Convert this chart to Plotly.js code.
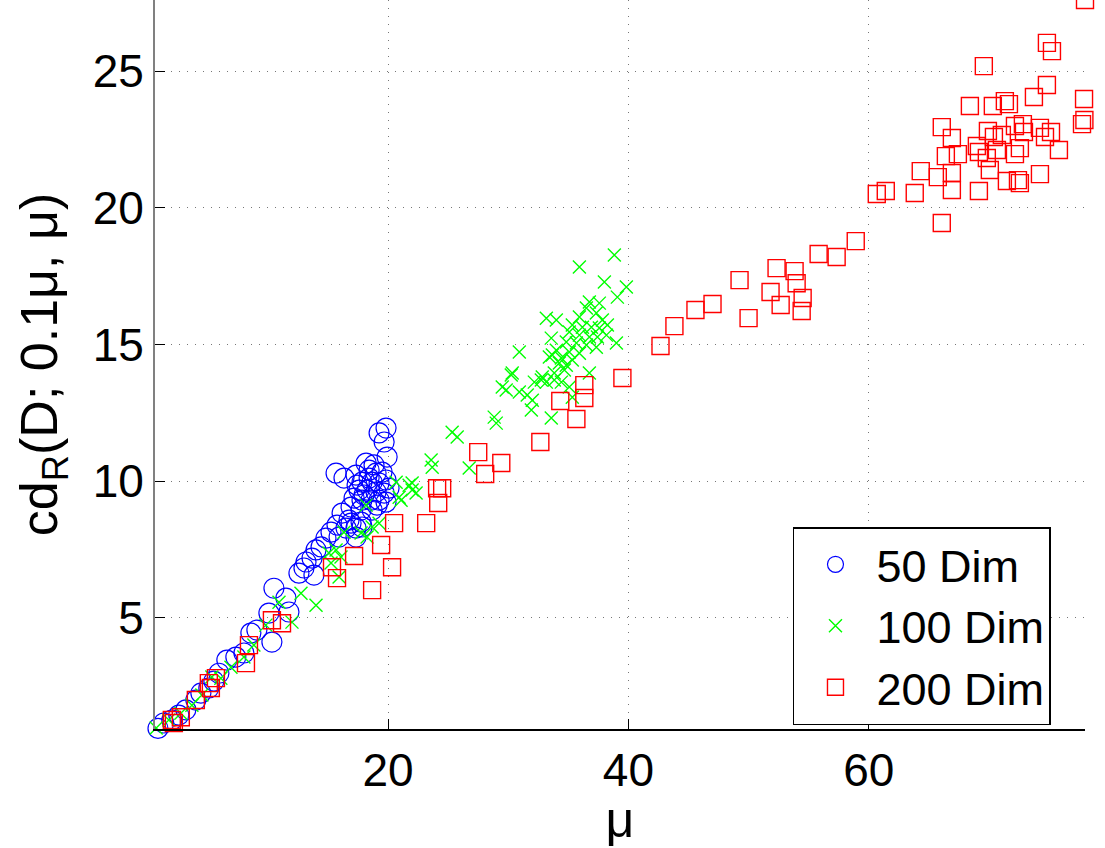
<!DOCTYPE html>
<html>
<head>
<meta charset="utf-8">
<script src="https://cdn.plot.ly/plotly-3.0.1.min.js"></script>
<style>html,body{margin:0;padding:0;background:#fff;}#chart{width:1105px;height:848px;}</style>
</head>
<body>
<div id="chart"></div>
<script>
// 50 Dim (blue circles)
const dim50X = [0.85,1.33,2.0,2.58,3.17,4.0,4.42,5.08,5.5,5.92,6.58,7.33,8.0,8.58,9.08,10.33,10.08,10.5,11.5,11.75,
  13.0,13.17,13.67,14.0,13.83,12.58,14.42,14.83,15.25,15.92,15.75,16.5,17.33,16.17,16.75,17.75,16.92,17.75,18.67,17.17,
  17.83,18.58,19.25,19.83,17.58,18.25,19.0,19.67,17.83,18.67,19.25,19.83,15.67,16.33,17.33,18.42,19.0,19.5,18.17,19.92,
  19.67,19.25,19.83,17.33,17.83,16.92,18.83,18.0,19.08,20.08,18.42,17.42];
const dim50Y = [0.95,1.15,1.26,1.44,1.63,1.99,2.24,2.43,2.68,2.97,3.45,3.56,3.71,4.44,4.55,4.11,5.17,6.08,5.72,5.21,
  6.82,7.04,7.18,7.48,6.56,6.63,7.59,7.91,8.13,7.95,8.39,8.28,8.28,8.83,8.57,8.5,9.05,8.94,8.94,9.38,
  9.3,9.3,9.3,9.23,9.67,9.67,9.6,9.56,9.96,9.96,9.93,10.04,10.29,10.11,10.22,10.4,10.29,10.33,10.66,10.88,
  11.43,11.76,11.94,7.95,8.32,8.46,10.59,9.49,9.12,9.74,10.11,9.85];

// 100 Dim (green crosses)
const dim100X = [0.7,1.75,2.75,3.67,4.5,5.33,6.08,6.92,8.0,8.83,9.83,10.92,12.0,12.75,14.0,15.08,15.67,16.08,15.25,15.92,
  16.33,17.75,18.25,18.67,19.25,18.17,20.67,21.08,21.75,22.0,20.92,22.33,22.0,23.58,23.67,25.33,25.75,26.75,28.83,29.0,
  29.83,30.33,30.92,31.58,32.0,31.92,30.92,32.17,32.75,33.17,33.58,33.67,34.25,34.67,35.08,35.33,36.75,33.83,34.42,29.5,
  30.25,32.83,33.83,34.83,33.42,34.42,35.33,34.0,35.08,35.92,33.58,34.83,35.67,36.5,37.33,39.0,35.08,35.92,36.75,37.42,
  38.17,35.33,36.17,36.92,37.58,38.25,33.17,34.0,35.92,36.5,37.33,37.83,36.75,37.58,38.0,39.83,39.08,35.92,38.83];
const dim100Y = [0.97,1.26,1.51,1.8,2.17,2.83,2.79,3.19,3.56,4.0,4.73,5.57,4.84,5.9,5.46,7.37,7.48,7.22,7.0,6.49,
  8.13,8.1,7.95,8.32,8.46,9.12,9.96,9.3,9.85,9.67,9.41,9.56,9.93,10.77,10.51,11.79,11.61,10.48,12.34,12.12,
  13.33,13.95,13.26,13.15,12.96,12.6,14.72,13.62,13.7,13.62,12.31,14.61,14.32,14.06,13.44,13.07,13.95,13.95,13.62,13.44,
  13.88,13.81,13.7,14.24,14.54,14.5,14.43,14.79,14.72,14.68,15.23,15.09,15.05,14.98,14.9,15.05,15.45,15.34,15.27,15.27,
  15.34,15.71,15.63,15.63,15.6,15.71,15.96,15.89,16.0,16.33,16.15,15.89,16.55,16.51,17.28,17.1,16.73,17.83,18.27];

// 200 Dim (red squares)
const dim200X = [2.17,2.75,2.0,4.0,5.25,5.08,5.67,8.17,8.42,10.33,11.17,20.5,19.42,17.17,20.33,15.33,15.75,18.67,23.17,24.08,
  24.5,24.17,27.5,28.08,29.42,32.67,34.33,35.67,36.33,36.33,39.5,42.67,43.83,45.58,47.0,49.25,50.0,51.83,52.33,52.67,
  53.83,54.0,54.5,54.42,55.83,57.33,58.92,60.67,61.42,63.83,66.08,64.33,65.75,66.92,66.42,67.42,66.92,69.17,69.83,70.08,
  71.5,72.42,72.58,74.25,69.0,69.17,70.67,72.58,72.17,75.83,66.08,66.92,69.92,70.42,71.08,72.17,72.83,72.92,74.25,75.17,
  74.67,68.42,70.33,71.33,71.67,73.75,74.83,77.92,77.75,77.95,69.58,74.83,75.25,78.0];
const dim200Y = [1.15,1.36,1.26,1.99,2.43,2.61,2.79,3.34,4.0,4.91,4.8,8.46,7.66,7.26,6.85,6.85,6.45,6.01,8.46,9.74,
  9.74,9.2,11.06,10.26,10.66,11.43,12.93,12.27,13.51,13.04,13.77,14.94,15.67,16.26,16.48,17.35,15.96,16.92,17.79,16.44,
  17.68,17.24,16.7,16.22,18.31,18.2,18.78,20.5,20.61,20.54,19.44,21.34,21.12,21.27,21.89,21.96,20.65,20.61,21.82,21.38,
  20.98,21.01,20.9,21.23,22.26,22.04,22.11,22.18,21.96,22.11,22.95,22.55,22.81,22.59,22.66,22.99,23.06,22.77,22.92,22.77,
  22.59,23.72,23.72,23.9,23.79,24.05,24.49,23.98,23.06,23.21,25.18,26.03,25.73,27.6];

const legendNames = ['50 Dim','100 Dim','200 Dim'];
const xTicks = [20,40,60];
const yTicks = [5,10,15,20,25];

const FONT = '"Liberation Sans", Arial, Helvetica, sans-serif';

const traces = [
  {x: dim50X, y: dim50Y, name: legendNames[0], type: 'scatter', mode: 'markers', cliponaxis: false,
   marker: {symbol: 'circle-open', size: 20, color: '#0000ff', line: {width: 1.2, color: '#0000ff'}}},
  {x: dim100X, y: dim100Y, name: legendNames[1], type: 'scatter', mode: 'markers', cliponaxis: false,
   marker: {symbol: 'x-thin-open', size: 13, color: '#00ff00', line: {width: 1.4, color: '#00ff00'}}},
  {x: dim200X, y: dim200Y, name: legendNames[2], type: 'scatter', mode: 'markers', cliponaxis: false,
   marker: {symbol: 'square-open', size: 17, color: '#ff0000', line: {width: 1.4, color: '#ff0000'}}}
];

const layout = {
  width: 1105, height: 848,
  margin: {l: 155, r: 20, t: 0, b: 119},
  paper_bgcolor: '#ffffff', plot_bgcolor: '#ffffff',
  font: {family: FONT, size: 46, color: '#000'},
  showlegend: true,
  legend: {x: 0.686, y: 0.277, xanchor: 'left', yanchor: 'top', bgcolor: '#fff',
    bordercolor: '#000', borderwidth: 1.5, itemwidth: 72, font: {size: 45, family: FONT}},
  xaxis: {range: [0.6, 78], tickvals: xTicks, ticktext: xTicks.map(String), ticks: 'inside', ticklen: 10,
    tickcolor: '#000', showline: true, linecolor: '#000', linewidth: 1.5, zeroline: false,
    showgrid: true, gridcolor: '#777', griddash: '1px,7px', gridwidth: 1, mirror: false,
    tickfont: {size: 46, family: FONT}, title: {text: 'μ', font: {size: 50, family: FONT}, standoff: 0}},
  yaxis: {range: [0.93, 27.6], tickvals: yTicks, ticktext: yTicks.map(String), ticks: 'inside', ticklen: 10,
    tickcolor: '#000', showline: true, linecolor: '#808080', linewidth: 2, zeroline: false,
    showgrid: true, gridcolor: '#777', griddash: '1px,7px', gridwidth: 1, mirror: false,
    tickfont: {size: 46, family: FONT}, title: {text: 'cd<sub>R</sub>(D; 0.1μ, μ)', font: {size: 52, family: FONT}, standoff: 18}}
};

Plotly.newPlot('chart', traces, layout, {displayModeBar: false, staticPlot: true});
</script>
</body>
</html>
